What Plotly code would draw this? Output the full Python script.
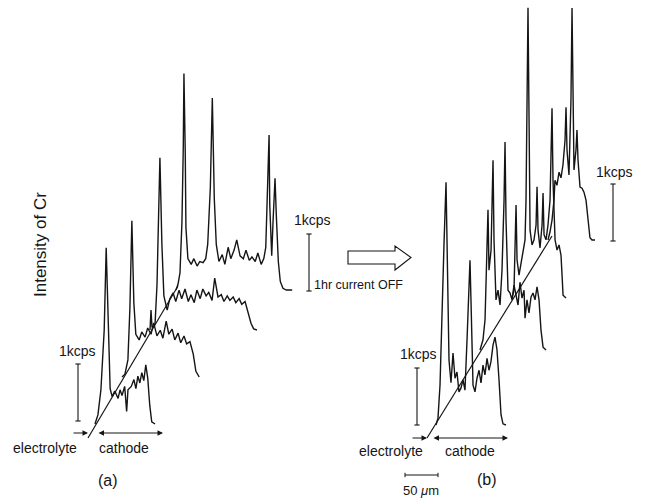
import plotly.graph_objects as go

# Canvas and physical scale: 33 px per 50 um across, 57 px per 1 kcps up
W, H = 645, 498
UM_PER_PX = 50 / 33
KCPS_PER_PX = 1 / 57


def ux(px):
    return px * UM_PER_PX


def uy(py):
    return (H - py) * KCPS_PER_PX


# ---------------- line-scan data (distance from interface in um, Cr intensity in kcps)
# (a) during current flow
a1_um = [0, 4.5, 9, 14, 17, 20, 23, 26, 30, 35, 38, 41, 45, 48, 50, 55, 59, 62, 65, 68,
         71, 74, 77, 80, 83, 86, 91]
a1_kcps = [0, 0.16, 0.6, 1.65, 3.09, 1.6, 0.62, 0.48, 0.58, 0.45, 0.6, 0.5, 0.66, 0.22, 0.6,
           0.66, 0.78, 0.62, 0.84, 0.72, 0.9, 0.76, 1.04, 0.8, 0.33, 0.04, 0]

a2_um = [0, 4.5, 9, 12, 15, 18, 21, 26, 30, 35, 39, 44, 48, 53, 58, 62, 67, 71, 76, 80,
         85, 89, 94, 98, 103, 108, 112, 117]
a2_kcps = [0, 0.05, 0.3, 1.2, 2.74, 1.3, 0.75, 0.65, 0.79, 0.7, 0.86, 0.75, 0.95, 0.72, 0.82,
           0.68, 0.98, 0.75, 0.84, 0.65, 0.77, 0.6, 0.72, 0.58, 0.62, 0.4, 0.1, 0]

a3_um = [0, 1.5, 3, 7.6, 10.6, 13, 15, 18, 21, 26, 30, 35, 39, 44, 48, 53, 58, 62, 67, 71,
         76, 80, 85, 89, 94, 98, 103, 108, 112, 117, 121, 126, 130, 135, 139, 144, 148, 153,
         157, 162]
a3_kcps = [0, 0.35, 0.05, 0.1, 0.8, 1.8, 3.02, 1.5, 0.6, 0.35, 0.55, 0.65, 0.5, 0.7, 0.55,
           0.72, 0.5, 0.62, 0.48, 0.7, 0.55, 0.72, 0.6, 0.66, 0.52, 0.91, 0.58, 0.62, 0.5,
           0.6, 0.52, 0.58, 0.48, 0.55, 0.45, 0.5, 0.35, 0.12, 0.02, 0]

a4_um = [0, 3, 6, 9, 11, 12, 14, 15, 18, 23, 27, 32, 36, 41, 45, 48, 52, 55, 58, 61, 65, 70,
         74, 79, 83, 88, 92, 97, 102, 106, 111, 115, 120, 124, 129, 133, 136, 139, 141, 142,
         145, 147, 150, 152, 155, 158, 162, 167, 176]
a4_kcps = [0, 0.1, 0.3, 1.2, 2.5, 3.8, 2.4, 1.1, 0.55, 0.45, 0.55, 0.42, 0.5, 0.48, 0.55, 0.8,
           1.8, 3.37, 1.6, 0.8, 0.5, 0.62, 0.45, 0.75, 0.55, 0.7, 0.88, 0.6, 0.55, 0.7, 0.52,
           0.58, 0.5, 0.65, 0.45, 0.55, 0.75, 1.8, 2.72, 1.5, 0.6, 1.2, 1.96, 1.3, 0.5, 0.15,
           0.03, 0, 0]

# (b) after 1 hr with current off
b1_um = [0, 3.0, 6.1, 9.1, 12.1, 15.2, 18.2, 19.7, 22.7, 25.8, 28.8, 31.8, 34.8, 37.9, 40.9,
         43.9, 47.0, 50.0, 51.5, 53.0, 56.1, 59.1, 62.1, 65.2, 68.2, 71.2, 74.2, 77.3, 80.3,
         83.3, 86.4, 89.4, 92.4, 95.5, 98.5, 101.5, 106]
b1_kcps = [0, 0.12, 0.70, 2.19, 3.16, 4.26, 2.46, 1.14, 0.74, 1.26, 0.82, 0.93, 0.58, 0.65,
           0.79, 0.61, 1.49, 2.46, 2.89, 2.19, 0.70, 0.58, 0.82, 0.96, 0.74, 1.05, 0.88, 1.17,
           0.96, 1.11, 1.40, 1.54, 1.32, 0.79, 0.18, 0.02, 0]

b2_um = [0, 4.5, 7.6, 10.6, 12.1, 13.6, 16.7, 19.7, 21.2, 24.2, 27.3, 30.3, 33.3, 36.4, 37.9,
         39.4, 42.4, 45.5, 48.5, 51.5, 54.5, 57.6, 60.6, 63.6, 66.7, 68.2, 71.2, 74.2, 77.3,
         80.3, 83.3, 86.4, 89.4, 92.4, 95.5, 100]
b2_kcps = [0, 0.18, 0.53, 1.58, 2.46, 1.40, 1.75, 3.33, 1.93, 0.88, 1.05, 0.79, 1.40, 2.63,
           3.65, 2.28, 1.05, 1.0, 0.88, 1.14, 0.96, 0.79, 1.19, 0.91, 1.05, 0.56, 0.88, 0.65,
           0.93, 1.0, 0.88, 1.11, 0.88, 0.35, 0.05, 0]

b3_um = [0, 3.0, 6.1, 7.6, 10.6, 13.6, 16.7, 19.7, 21.2, 22.7, 24.2, 25.8, 27.3, 30.3, 33.3,
         36.4, 37.9, 39.4, 42.4, 45.5, 47.0, 48.5, 51.5, 54.5, 57.6, 60.6, 62.1, 65.2, 68.2,
         71.2, 74.2, 75.8, 77.3, 81.8]
b3_kcps = [0, 0.14, 1.63, 0.67, 0.40, 0.63, 0.81, 1.02, 1.72, 3.12, 5.09, 3.12, 1.19, 0.93,
           1.02, 1.28, 1.95, 1.19, 0.88, 1.28, 1.84, 1.11, 1.02, 1.28, 1.72, 3.33, 2.07, 1.02,
           0.84, 0.93, 0.75, 0.40, 0.05, 0]

b4_um = [0, 3.0, 6.1, 9.1, 10.6, 13.6, 16.7, 19.7, 22.7, 25.8, 27.3, 28.8, 31.8, 33.3, 34.8,
         36.4, 37.9, 39.4, 42.4, 43.9, 45.5, 48.5, 51.5, 54.5, 57.6, 59.1, 60.6, 62.1, 63.6,
         66.7, 71.2]
b4_kcps = [0, 0.14, 0.35, 0.70, 1.05, 0.96, 1.19, 1.09, 1.32, 1.75, 2.33, 1.58, 1.14, 1.75,
           2.46, 4.07, 2.11, 1.23, 1.58, 1.93, 1.40, 0.93, 0.91, 0.84, 0.70, 0.53, 0.35, 0.14,
           0.04, 0, 0]

# Waterfall placement of each scan (interface point, in um / kcps of the canvas)
a_origin_x = [143.9, 184.8, 227.3, 266.7]
a_origin_y = [1.298, 2.123, 2.947, 3.649]
b_origin_x = [660.6, 727.3, 775.8, 830.3]
b_origin_y = [1.281, 2.596, 3.509, 4.526]

SCALE_KCPS = 1.0     # vertical scale bars
SCALE_UM = 50.0      # horizontal scale bar

INK = "#151515"
FONT = "Liberation Sans, Arial, Helvetica, sans-serif"

fig = go.Figure()


def add_line(xs, ys, width=1.4):
    fig.add_trace(go.Scatter(x=xs, y=ys, mode="lines", hoverinfo="skip",
                             line=dict(color=INK, width=width), showlegend=False))


scans_a = [(a1_um, a1_kcps), (a2_um, a2_kcps), (a3_um, a3_kcps), (a4_um, a4_kcps)]
scans_b = [(b1_um, b1_kcps), (b2_um, b2_kcps), (b3_um, b3_kcps), (b4_um, b4_kcps)]

for (um, kc), x0, y0 in zip(scans_a, a_origin_x, a_origin_y):
    add_line([x0 + u for u in um], [y0 + k for k in kc])
for (um, kc), x0, y0 in zip(scans_b, b_origin_x, b_origin_y):
    add_line([x0 + u for u in um], [y0 + k for k in kc])

# Interface lines joining the start of each scan
add_line([ux(88), ux(178)], [uy(438), uy(286)], width=1.2)
add_line([ux(427), ux(552)], [uy(438), uy(236)], width=1.2)


# 1 kcps scale bars (I-beam)
def kcps_bar(xc, ybot):
    c = ux(2.6)
    add_line([xc, xc, None, xc - c, xc + c, None, xc - c, xc + c],
             [ybot, ybot + SCALE_KCPS, None, ybot, ybot, None,
              ybot + SCALE_KCPS, ybot + SCALE_KCPS], width=1.1)


kcps_bar(ux(78), uy(421))
kcps_bar(ux(309), uy(291))
kcps_bar(ux(417), uy(425))
kcps_bar(ux(613), uy(241))

# 50 um bar
x50, y50 = ux(405), uy(475)
t = 2.2 * KCPS_PER_PX
add_line([x50, x50 + SCALE_UM, None, x50, x50, None, x50 + SCALE_UM, x50 + SCALE_UM],
         [y50, y50, None, y50 - t, y50 + t, None, y50 - t, y50 + t], width=1.0)

# Hollow block arrow between the panels
pts = [(348, 251), (395, 251), (395, 246), (411, 257.5), (395, 270), (395, 264), (348, 264)]
path = "M " + " L ".join(f"{ux(px):.2f},{uy(py):.4f}" for px, py in pts) + " Z"
fig.add_shape(type="path", path=path, xref="x", yref="y",
              line=dict(color=INK, width=1.1), fillcolor="rgba(0,0,0,0)")

annotations = []


def label(text, px, py, size=14, angle=0):
    annotations.append(dict(text=text, x=ux(px), y=uy(py), xref="x", yref="y",
                            showarrow=False, textangle=angle,
                            font=dict(family=FONT, size=size, color=INK),
                            xanchor="center", yanchor="middle"))


def arrow(px_from, px_to, py, both=False):
    annotations.append(dict(text="", x=ux(px_to), y=uy(py), ax=ux(px_from), ay=uy(py),
                            xref="x", yref="y", axref="x", ayref="y", showarrow=True,
                            arrowhead=2, arrowsize=1.1, arrowwidth=1.0, arrowcolor=INK,
                            arrowside="end+start" if both else "end",
                            startarrowhead=2, startarrowsize=1.1))


label("Intensity of Cr", 40, 245, size=17, angle=-90)
label("1kcps", 77, 351)
label("1kcps", 312, 220)
label("1hr current OFF", 358, 285, size=12.5)
label("1kcps", 418, 354)
label("1kcps", 614, 172)
label("electrolyte", 45, 448)
label("cathode", 124, 448)
label("(a)", 108, 480, size=16)
label("electrolyte", 391, 451)
label("cathode", 470, 451)
label("(b)", 487, 479, size=16)
label("50 <i>μ</i>m", 421, 490, size=13)

arrow(72, 88, 433)
arrow(97, 163, 433, both=True)
arrow(411, 427, 438)
arrow(432, 508, 438, both=True)

fig.update_layout(
    width=W, height=H,
    margin=dict(l=0, r=0, t=0, b=0),
    paper_bgcolor="white", plot_bgcolor="white",
    xaxis=dict(range=[0, W * UM_PER_PX], visible=False, fixedrange=True),
    yaxis=dict(range=[0, H * KCPS_PER_PX], visible=False, fixedrange=True),
    annotations=annotations,
    showlegend=False,
)

fig.write_html("out.html")
